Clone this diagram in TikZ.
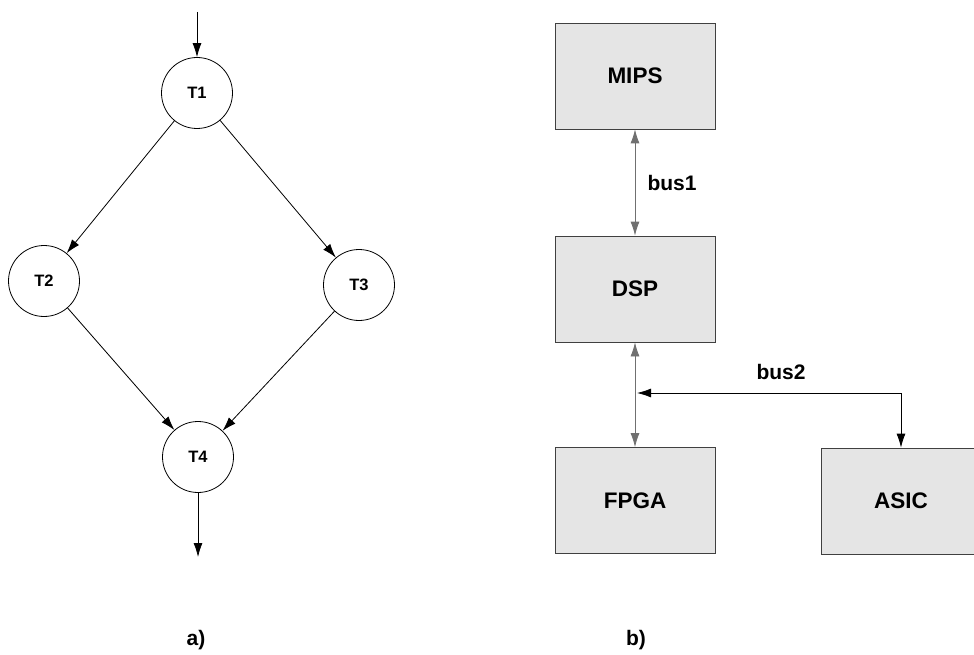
\documentclass[tikz,border=0pt]{standalone}
\usepackage{fontspec}
\setmainfont{Liberation Sans}
\usetikzlibrary{arrows.meta}

\definecolor{boxfill}{HTML}{E5E5E5}
\definecolor{boxline}{HTML}{404040}
\definecolor{busline}{HTML}{707070}

\tikzset{
	task/.style={draw, circle, thick, fill=white, minimum size=71pt, inner sep=0pt, font=\fontsize{16.5}{16.5}\selectfont\bfseries},
	unit/.style={draw=boxline, thick, fill=boxfill, minimum width=160pt, minimum height=106pt, inner sep=0pt, font=\fontsize{22.5}{22.5}\selectfont\bfseries},
	lbl/.style={font=\fontsize{21}{21}\selectfont\bfseries},
}

\begin{document}
\begin{tikzpicture}[x=1pt, y=-1pt, >={Latex[length=14pt,width=9pt]}]
	\useasboundingbox (0,0) rectangle (974,655);
	% a) task graph
	\node[task] (T1) at (197, 93) {T1};
	\node[task] (T2) at (44, 281) {T2};
	\node[task] (T3) at (359, 285) {T3};
	\node[task] (T4) at (198, 457) {T4};
	\coordinate (in) at (197, 12);
	\coordinate (out) at (198, 557);
	\draw[thick, ->] (in) -- (T1);
	\draw[thick, ->] (T1) -- (T2);
	\draw[thick, ->] (T1) -- (T3);
	\draw[thick, ->] (T2) -- (T4);
	\draw[thick, ->] (T3) -- (T4);
	\draw[thick, ->] (T4) -- (out);
	\node[lbl] (la) at (196, 640) {a)};
	% b) architecture
	\node[unit] (MIPS) at (635, 76) {MIPS};
	\node[unit] (DSP) at (635, 289) {DSP};
	\node[unit] (FPGA) at (635, 500.5) {FPGA};
	\node[unit] (ASIC) at (901, 501) {ASIC};
	\draw[thick, busline, <->] (MIPS) -- (DSP);
	\node[lbl] (bus1) at (672, 183) {bus1};
	\draw[thick, busline, <->] (DSP) -- (FPGA);
	\coordinate (J) at (901, 393);
	\coordinate (Jl) at (637, 393);
	\draw[thick, ->] (J) -- (Jl);
	\draw[thick, ->] (J) -- (ASIC);
	\node[lbl] (bus2) at (781, 372) {bus2};
	\node[lbl] (lb) at (636, 640) {b)};
\end{tikzpicture}
\end{document}
